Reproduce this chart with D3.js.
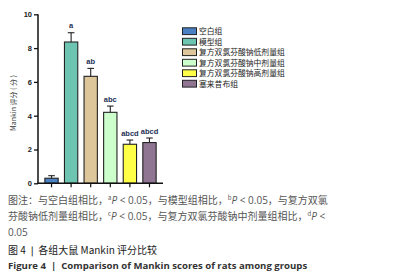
<!DOCTYPE html>
<html lang="zh">
<head>
<meta charset="UTF-8">
<script src="https://cdn.jsdelivr.net/npm/d3@7"></script>
<style>
  body { margin: 0; background: #fff; }
  svg { display: block; font-family: "Noto Sans CJK SC", "Open Sans", sans-serif; }
</style>
</head>
<body>
<svg id="svg"></svg>
<script>
var WIDTH = 394, HEIGHT = 279;

// data
var groups = ["空白组", "模型组", "复方双氯芬酸钠低剂量组", "复方双氯芬酸钠中剂量组", "复方双氯芬酸钠高剂量组", "塞来昔布组"];
var means = [0.3, 8.36, 6.33, 4.2, 2.31, 2.41];
var errs = [0.15, 0.55, 0.47, 0.37, 0.25, 0.27];
var marks = ["", "a", "ab", "abc", "abcd", "abcd"];
var colors = ["#4a80c4", "#6dc5b1", "#dcc69a", "#ccffcc", "#ffff47", "#8f7592"];
var yTicks = [0, 2, 4, 6, 8, 10];

var svg = d3.select("#svg").attr("width", WIDTH).attr("height", HEIGHT);
svg.append("rect").attr("width", WIDTH).attr("height", HEIGHT).attr("fill", "#fff");

var x = d3.scaleBand().domain(d3.range(groups.length)).range([38, 163]).paddingInner(0.32).paddingOuter(0.35);
var y = d3.scaleLinear().domain([0, 10]).range([183.3, 14.3]);

// bars
var g = svg.append("g");
g.selectAll("rect.bar").data(means).enter().append("rect")
  .attr("class", "bar")
  .attr("x", function(d, i) { return x(i); })
  .attr("y", function(d) { return y(d); })
  .attr("width", x.bandwidth())
  .attr("height", function(d) { return y(0) - y(d); })
  .attr("fill", function(d, i) { return colors[i]; })
  .attr("stroke", "#222").attr("stroke-width", 1.1);

// error bars (upper only)
g.selectAll("line.err").data(means).enter().append("line")
  .attr("x1", function(d, i) { return x(i) + x.bandwidth() / 2; })
  .attr("x2", function(d, i) { return x(i) + x.bandwidth() / 2; })
  .attr("y1", function(d) { return y(d); })
  .attr("y2", function(d, i) { return y(d + errs[i]); })
  .attr("stroke", "#222").attr("stroke-width", 1.1);
g.selectAll("line.cap").data(means).enter().append("line")
  .attr("x1", function(d, i) { return x(i) + x.bandwidth() / 2 - 3.3; })
  .attr("x2", function(d, i) { return x(i) + x.bandwidth() / 2 + 3.3; })
  .attr("y1", function(d, i) { return y(d + errs[i]); })
  .attr("y2", function(d, i) { return y(d + errs[i]); })
  .attr("stroke", "#222").attr("stroke-width", 1.1);

// significance letters
g.selectAll("text.mark").data(means).enter().append("text")
  .attr("x", function(d, i) { return x(i) + x.bandwidth() / 2; })
  .attr("y", function(d, i) { return y(d + errs[i]) - 4.5; })
  .attr("text-anchor", "middle")
  .attr("font-family", "'Liberation Sans', Arial, sans-serif")
  .attr("font-size", 7.5).attr("font-weight", "bold")
  .attr("fill", "#1d2f55")
  .text(function(d, i) { return marks[i]; });

// axes
var yAxis = d3.axisLeft(y).tickValues(yTicks).tickSize(4).tickPadding(2);
var ya = svg.append("g").attr("transform", "translate(38,0)").call(yAxis);
ya.select(".domain").attr("stroke", "#111").attr("stroke-width", 1.5).attr("d", "M0," + y(10) + "V" + y(0));
ya.selectAll(".tick line").attr("stroke", "#111").attr("stroke-width", 1.3);
ya.selectAll(".tick text").attr("font-family", "'Liberation Sans', Arial, sans-serif")
  .attr("font-size", 7.5).attr("font-weight", "bold").attr("fill", "#222");

var xAxis = d3.axisBottom(x).tickSize(4).tickFormat("");
var xa = svg.append("g").attr("transform", "translate(0," + y(0) + ")").call(xAxis);
xa.select(".domain").attr("stroke", "#111").attr("stroke-width", 1.5).attr("d", "M37.3,0H163");
xa.selectAll(".tick line").attr("stroke", "#111").attr("stroke-width", 1.2);

svg.append("text")
  .attr("transform", "translate(15.5,103) rotate(-90)")
  .attr("text-anchor", "middle")
  .attr("font-size", 7).attr("fill", "#333")
  .text("Mankin 评分 ( 分 )");

// legend
var leg = svg.append("g").attr("transform", "translate(182.5,27.8)");
var rows = leg.selectAll("g").data(groups).enter().append("g")
  .attr("transform", function(d, i) { return "translate(0," + (i * 10.5) + ")"; });
rows.append("rect").attr("width", 14).attr("height", 6.8)
  .attr("fill", function(d, i) { return colors[i]; })
  .attr("stroke", "#222").attr("stroke-width", 1);
rows.append("text").attr("x", 16.5).attr("y", 6.6)
  .attr("font-size", 7.8).attr("fill", "#222")
  .text(function(d) { return d; });

// caption
var cap = svg.append("g").attr("font-size", 10);
function note(yy, parts, fill) {
  var t = cap.append("text").attr("x", 8).attr("y", yy).attr("fill", fill);
  parts.forEach(function(p) {
    var s = t.append("tspan").text(p[0]);
    if (p[1] === "sup") s.attr("font-size", 6).attr("dy", -4);
    if (p[1] === "it") s.attr("font-style", "italic").attr("dy", 4).attr("font-family", "'Open Sans', sans-serif");
    if (p[1] === "lat") s.attr("font-family", "'Open Sans', sans-serif");
  });
  return t;
}
note(204, [["图注：与空白组相比，"], ["a", "sup"], ["P", "it"], [" < 0.05", "lat"], ["，与模型组相比，"], ["b", "sup"], ["P", "it"], [" < 0.05", "lat"], ["，与复方双氯"]], "#555");
note(220, [["芬酸钠低剂量组相比，"], ["c", "sup"], ["P", "it"], [" < 0.05", "lat"], ["，与复方双氯芬酸钠中剂量组相比，"], ["d", "sup"], ["P", "it"], [" <", "lat"]], "#555");
note(236, [["0.05", "lat"]], "#555");
cap.append("text").attr("x", 8).attr("y", 253.5)
  .attr("font-size", 10).attr("fill", "#222")
  .style("white-space", "pre")
  .text("图 4 ❘ 各组大鼠 Mankin 评分比较");
cap.append("text").attr("x", 8).attr("y", 268.5)
  .attr("font-family", "'Open Sans', sans-serif").attr("font-weight", "bold")
  .attr("font-size", 9.6).attr("fill", "#333")
  .style("white-space", "pre")
  .text("Figure 4  |  Comparison of Mankin scores of rats among groups");
</script>
</body>
</html>
